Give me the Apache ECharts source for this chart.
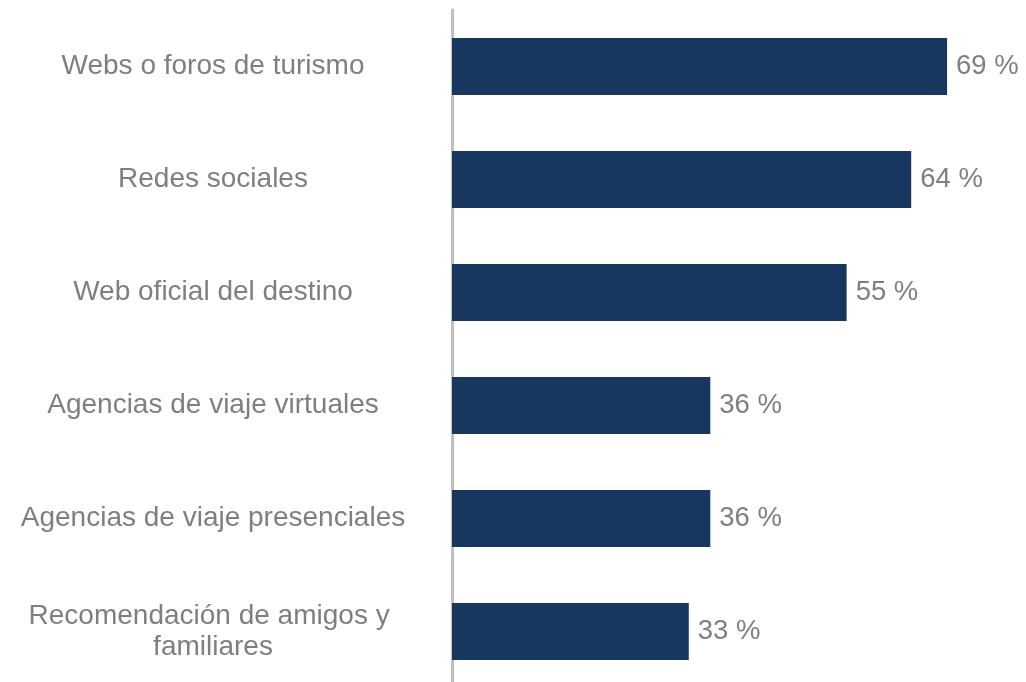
<!DOCTYPE html>
<html>
<head>
<meta charset="utf-8">
<script src="https://cdn.jsdelivr.net/npm/echarts@6/dist/echarts.min.js"></script>
<style>
  html, body { margin: 0; padding: 0; background: #ffffff; overflow: hidden; }
  #chart { width: 1026px; height: 690px; }
</style>
</head>
<body>
<div id="chart"></div>
<script>
// Fuentes de información consultadas (porcentaje)
const categories = [
  'Webs o foros de turismo',
  'Redes sociales',
  'Web oficial del destino',
  'Agencias de viaje virtuales',
  'Agencias de viaje presenciales',
  'Recomendación de amigos y familiares'
];
const values = [69, 64, 55, 36, 36, 33];

const chart = echarts.init(document.getElementById('chart'));
const textGray = '#7f7f7f';
const font = '"Liberation Sans", Arial, sans-serif';

chart.setOption({
  animation: false,
  grid: { left: 451, right: 0, top: 10, bottom: 2, containLabel: false },
  xAxis: {
    type: 'value',
    min: 0,
    max: 80,
    show: false
  },
  yAxis: {
    type: 'category',
    data: categories,
    inverse: true,
    axisLine: { show: true, lineStyle: { color: '#c0c0c0', width: 3 } },
    axisTick: { show: false },
    axisLabel: {
      margin: 239,
      align: 'center',
      color: textGray,
      fontFamily: font,
      fontSize: 28,
      lineHeight: 31,
      width: 420,
      overflow: 'break'
    }
  },
  series: [{
    type: 'bar',
    data: values,
    barWidth: 57,
    itemStyle: { color: '#17375e' },
    label: {
      show: true,
      position: 'right',
      distance: 9,
      color: textGray,
      fontFamily: font,
      fontSize: 27.5,
      formatter: p => p.value + ' %'
    }
  }]
});
</script>
</body>
</html>
